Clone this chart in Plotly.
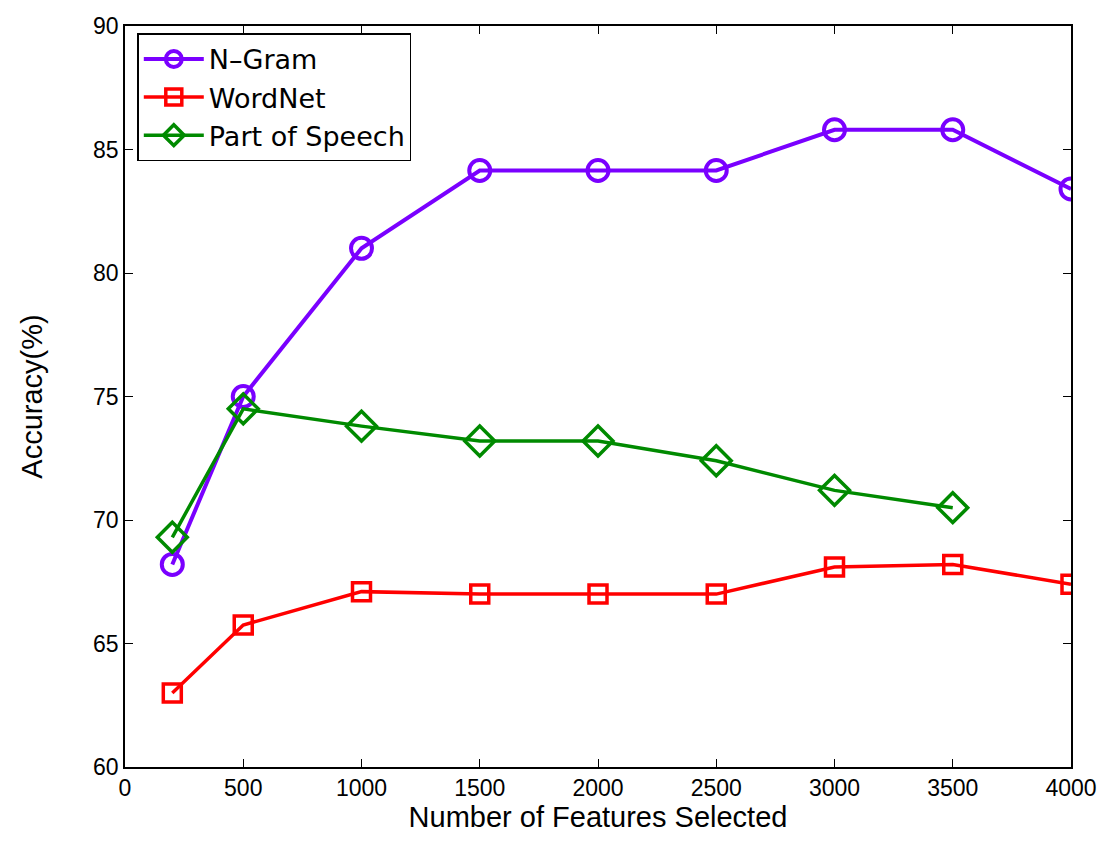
import plotly.graph_objects as go

features = [200, 500, 1000, 1500, 2000, 2500, 3000, 3500, 4000]
ngram = [68.2, 75.0, 81.0, 84.15, 84.15, 84.15, 85.8, 85.8, 83.4]
wordnet = [63.0, 65.75, 67.1, 67.0, 67.0, 67.0, 68.1, 68.2, 67.4]
pos_x = [200, 500, 1000, 1500, 2000, 2500, 3000, 3500]
pos = [69.3, 74.5, 73.8, 73.2, 73.2, 72.4, 71.2, 70.5]

FONT = "Liberation Sans Narrow, Arial Narrow, Liberation Sans, Arial"

fig = go.Figure()
fig.add_trace(go.Scatter(x=features, y=ngram, name="N\u2013Gram", mode="lines+markers",
                         line=dict(color="#7a00ff", width=4),
                         marker=dict(symbol="circle-open", size=21, color="#7a00ff", line=dict(width=4))))
fig.add_trace(go.Scatter(x=features, y=wordnet, name="WordNet", mode="lines+markers",
                         line=dict(color="#ff0000", width=3.5),
                         marker=dict(symbol="square-open", size=18, color="#ff0000", line=dict(width=3.5))))
fig.add_trace(go.Scatter(x=pos_x, y=pos, name="Part of Speech", mode="lines+markers",
                         line=dict(color="#008a00", width=3.5),
                         marker=dict(symbol="diamond-open", size=23, color="#008a00", line=dict(width=3.5))))

axis_common = dict(showline=True, linecolor="black", linewidth=1.5, mirror="ticks",
                   ticks="inside", ticklen=8, tickcolor="black", showgrid=False, zeroline=False,
                   automargin=False, ticklabeloverflow="allow",
                   tickfont=dict(family=FONT, size=23, color="black"))

fig.update_xaxes(range=[0, 4000], tickvals=[0, 500, 1000, 1500, 2000, 2500, 3000, 3500, 4000],
                 title=dict(text="Number of Features Selected", font=dict(family=FONT, size=29, color="black"), standoff=2),
                 **axis_common)
fig.update_yaxes(range=[60, 90], tickvals=[60, 65, 70, 75, 80, 85, 90],
                 title=dict(text="Accuracy(%)", font=dict(family=FONT, size=29, color="black"), standoff=42),
                 **axis_common)

fig.update_layout(width=1110, height=841, paper_bgcolor="white", plot_bgcolor="white",
                  margin=dict(l=117, r=47, t=18, b=82),
                  legend=dict(x=0.013, y=0.99, xanchor="left", yanchor="top",
                              bordercolor="black", borderwidth=1.5, bgcolor="white",
                              font=dict(family="DejaVu Sans, Liberation Sans, Arial", size=27, color="black"),
                              itemwidth=60, tracegroupgap=0))

fig.write_html("out.html")
